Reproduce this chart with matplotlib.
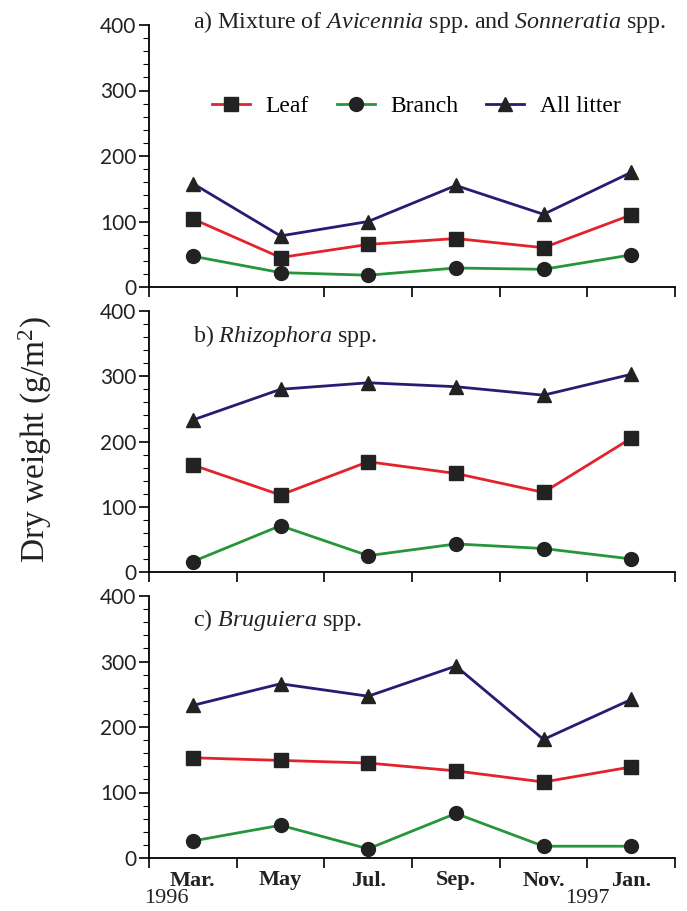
import matplotlib
matplotlib.use('Agg')
import matplotlib.pyplot as plt
from matplotlib.ticker import MultipleLocator, FixedLocator, NullFormatter

plt.rcParams['mathtext.fontset'] = 'custom'
plt.rcParams['mathtext.rm'] = 'Liberation Serif'
plt.rcParams['mathtext.it'] = 'Liberation Serif:italic'

months = ['Mar.', 'May', 'Jul.', 'Sep.', 'Nov.', 'Jan.']
years = ['1996', '1997']

titles = ['a) Mixture of $\\mathit{Avicennia}$ spp. and $\\mathit{Sonneratia}$ spp.',
          'b) $\\mathit{Rhizophora}$ spp.',
          'c) $\\mathit{Bruguiera}$ spp.']

# dry weight (g/m2) per site: leaf, branch, all litter
leaf_a = [104, 45, 65, 74, 60, 110]
branch_a = [47, 22, 18, 29, 27, 49]
all_a = [158, 78, 100, 155, 111, 175]

leaf_b = [164, 118, 169, 151, 122, 205]
branch_b = [16, 71, 25, 43, 36, 20]
all_b = [233, 280, 290, 284, 271, 303]

leaf_c = [153, 149, 145, 133, 116, 139]
branch_c = [26, 50, 14, 68, 18, 18]
all_c = [233, 266, 247, 293, 181, 242]

sites = [(leaf_a, branch_a, all_a), (leaf_b, branch_b, all_b), (leaf_c, branch_c, all_c)]

fig = plt.figure(figsize=(6.87, 9.11), dpi=100)

left, right = 149 / 687, 675 / 687
tops = [25, 311, 596]
bottoms = [287, 572, 858]
title_y = [1.012, 0.905, 0.908]

x = list(range(len(months)))

for i, (leaf, branch, total) in enumerate(sites):
    b = 1 - bottoms[i] / 911
    h = (bottoms[i] - tops[i]) / 911
    ax = fig.add_axes([left, b, right - left, h])

    ax.plot(x, leaf, 's-', color='#e3232c', mfc='#222222', mec='#222222', ms=10, lw=2, label='Leaf', zorder=3)
    ax.plot(x, branch, 'o-', color='#27963a', mfc='#222222', mec='#222222', ms=10, lw=2, label='Branch', zorder=3)
    ax.plot(x, total, '^-', color='#2b1a72', mfc='#222222', mec='#222222', ms=10, lw=2, label='All litter', zorder=3)

    ax.set_xlim(-0.5, 5.5)
    ax.set_ylim(0, 400)
    ax.spines['top'].set_visible(False)
    ax.spines['right'].set_visible(False)
    ax.spines['left'].set_linewidth(1.3)
    ax.spines['bottom'].set_linewidth(1.3)

    ax.yaxis.set_major_locator(MultipleLocator(100))
    ax.yaxis.set_minor_locator(MultipleLocator(20))
    ax.tick_params(axis='y', which='major', direction='out', length=7, width=1.2, pad=2)
    ax.tick_params(axis='y', which='minor', direction='out', length=4, width=0.8)
    for lab in ax.get_yticklabels():
        lab.set_fontfamily('Lato')
        lab.set_fontsize(15)
        lab.set_color('#222222')

    ax.xaxis.set_major_locator(FixedLocator([k - 0.5 for k in range(len(months) + 1)]))
    ax.xaxis.set_major_formatter(NullFormatter())
    ax.tick_params(axis='x', which='major', direction='out', length=7, width=1.2)

    if i == 2:
        ax.xaxis.set_minor_locator(FixedLocator(x))
        ax.set_xticklabels(months, minor=True, fontfamily='Liberation Serif',
                           fontsize=16, fontweight='bold', color='#222222')
        ax.tick_params(axis='x', which='minor', length=0, pad=9)
        ax.text(-0.3, -0.155, years[0], transform=ax.get_xaxis_transform(),
                ha='center', va='center', fontsize=16, family='Liberation Serif', color='#222222')
        ax.text(4.5, -0.155, years[1], transform=ax.get_xaxis_transform(),
                ha='center', va='center', fontsize=16, family='Liberation Serif', color='#222222')

    ax.text(0.084, title_y[i], titles[i], transform=ax.transAxes, ha='left', va='center',
            fontsize=17.3, family='Liberation Serif', color='#222222')

    if i == 0:
        ax.legend(loc='center', bbox_to_anchor=(0.508, 0.69), ncol=3, frameon=False,
                  prop={'family': 'Liberation Serif', 'size': 17}, handlelength=1.6,
                  columnspacing=1.2, handletextpad=0.65)

fig.text(0.052, 1 - 440 / 911, 'Dry weight (g/m$^2$)', rotation=90, ha='center', va='center',
         fontsize=24, family='Liberation Serif', color='#222222')

fig.savefig('out.png', dpi=100)
